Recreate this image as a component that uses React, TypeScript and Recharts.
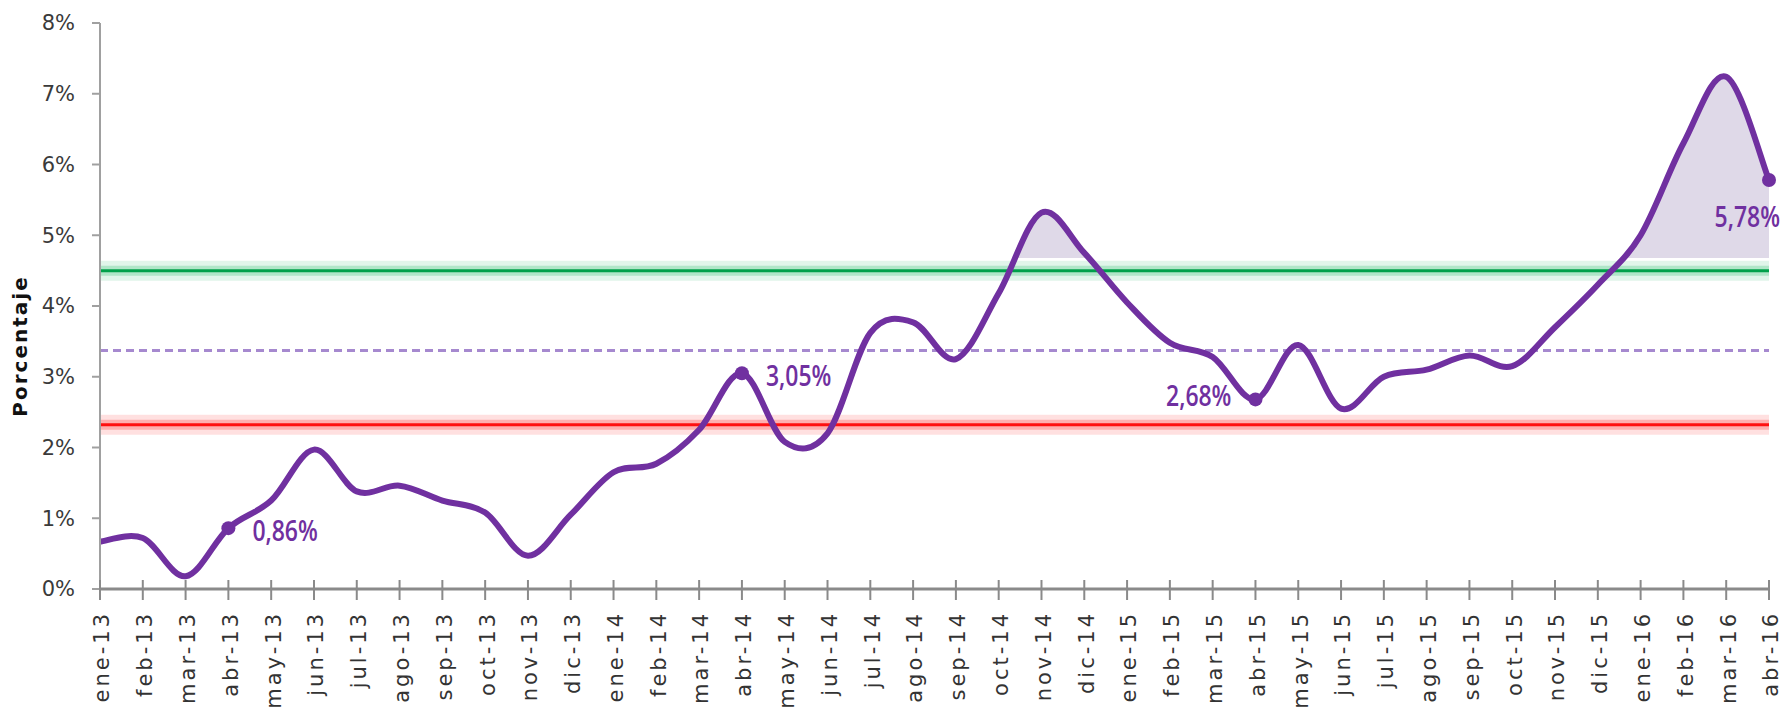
import { Area, ComposedChart, Line, XAxis, YAxis } from 'recharts';

// Meses ene-13 … abr-16 y tasa mensual (%)
const meses = [
  'ene-13', 'feb-13', 'mar-13', 'abr-13', 'may-13', 'jun-13', 'jul-13', 'ago-13', 'sep-13', 'oct-13', 'nov-13', 'dic-13',
  'ene-14', 'feb-14', 'mar-14', 'abr-14', 'may-14', 'jun-14', 'jul-14', 'ago-14', 'sep-14', 'oct-14', 'nov-14', 'dic-14',
  'ene-15', 'feb-15', 'mar-15', 'abr-15', 'may-15', 'jun-15', 'jul-15', 'ago-15', 'sep-15', 'oct-15', 'nov-15', 'dic-15',
  'ene-16', 'feb-16', 'mar-16', 'abr-16',
];

const tasa = [
  0.67, 0.72, 0.18, 0.86, 1.25, 1.97, 1.38, 1.46, 1.25, 1.08, 0.47, 1.05,
  1.65, 1.77, 2.25, 3.05, 2.08, 2.2, 3.62, 3.77, 3.25, 4.18, 5.32, 4.75,
  4.05, 3.48, 3.28, 2.68, 3.45, 2.55, 3.0, 3.1, 3.3, 3.15, 3.7, 4.3,
  5.0, 6.3, 7.24, 5.78,
];

const metaSuperior = 4.5;
const metaInferior = 2.32;
const promedio = 3.37;
const umbralSombra = 4.68;

const yTicks = [0, 1, 2, 3, 4, 5, 6, 7, 8];
const destacados = [3, 15, 27, 39];

const rows = meses.map((mes, i) => ({
  mes,
  tasa: tasa[i],
  sup: metaSuperior,
  inf: metaInferior,
  prom: promedio,
  umbral: umbralSombra,
}));

const PURPLE = '#7030A0';

// Excel-like smoothed line (uniform Catmull-Rom as cubic béziers)
function excelSmooth(context: any) {
  let xs: number[] = [];
  let ys: number[] = [];
  let line = NaN;
  return {
    areaStart() { line = 0; },
    areaEnd() { line = NaN; },
    lineStart() { xs = []; ys = []; },
    lineEnd() {
      const n = xs.length;
      if (n) {
        if (line) context.lineTo(xs[0], ys[0]);
        else context.moveTo(xs[0], ys[0]);
        for (let i = 0; i < n - 1; i++) {
          const a = Math.max(i - 1, 0);
          const d = Math.min(i + 2, n - 1);
          context.bezierCurveTo(
            xs[i] + (xs[i + 1] - xs[a]) / 6, ys[i] + (ys[i + 1] - ys[a]) / 6,
            xs[i + 1] - (xs[d] - xs[i]) / 6, ys[i + 1] - (ys[d] - ys[i]) / 6,
            xs[i + 1], ys[i + 1],
          );
        }
      }
      if (line || (line !== 0 && n === 1)) context.closePath();
      line = 1 - line;
    },
    point(x: number, y: number) { xs.push(+x); ys.push(+y); },
  };
}

const fmt = (v: number) => `${v.toFixed(2).replace('.', ',')}%`;

function MesTick({ x, y, payload }: any) {
  return (
    <g transform={`translate(${x},${y})`}>
      <line y1={-9} y2={11} stroke="#8a8a8a" strokeWidth={2} />
      <text
        transform="rotate(-90)"
        x={-22}
        y={2}
        dy="0.35em"
        textAnchor="end"
        fontFamily="DejaVu Sans, Verdana, sans-serif"
        fontSize={21}
        letterSpacing={3}
        fill="#333"
      >
        {payload.value}
      </text>
    </g>
  );
}

function PuntoDestacado(props: any) {
  const { cx, cy, index, value } = props;
  if (!destacados.includes(index)) return <g key={`d${index}`} />;
  let tx = cx + 24;
  let ty = cy + 3;
  let anchor: 'start' | 'end' = 'start';
  if (index === 27) { tx = cx - 24; ty = cy - 3; anchor = 'end'; }
  if (index === 39) { tx = cx + 11; ty = cy + 37; anchor = 'end'; }
  return (
    <g key={`d${index}`}>
      <circle cx={cx} cy={cy} r={7} fill={PURPLE} />
      <text
        transform={`translate(${tx},${ty}) scale(0.82,1)`}
        dy="0.36em"
        textAnchor={anchor}
        fontFamily="'Open Sans', sans-serif"
        fontWeight={600}
        fontSize={28}
        fill={PURPLE}
      >
        {fmt(value)}
      </text>
    </g>
  );
}

export default function App() {
  return (
    <div style={{ position: 'absolute', left: 0, top: 0, background: '#fff' }}>
      <ComposedChart width={1783} height={713} data={rows} margin={{ top: 23, right: 14, bottom: 0, left: 0 }}>
        {/* shaded zone above the threshold: fill, then white cover below it */}
        <Area
          dataKey="tasa"
          type={excelSmooth as any}
          baseValue={umbralSombra}
          fill="#dfd9e8"
          fillOpacity={1}
          stroke="none"
          isAnimationActive={false}
        />
        <Area
          dataKey="umbral"
          type="linear"
          fill="#ffffff"
          fillOpacity={1}
          stroke="none"
          isAnimationActive={false}
        />
        <Line dataKey="inf" stroke="#ff0000" strokeOpacity={0.12} strokeWidth={20} dot={false} isAnimationActive={false} />
        <Line dataKey="inf" stroke="#ff0000" strokeOpacity={0.22} strokeWidth={10} dot={false} isAnimationActive={false} />
        <Line dataKey="inf" stroke="#ff1010" strokeWidth={3} dot={false} isAnimationActive={false} />
        <Line dataKey="sup" stroke="#00b050" strokeOpacity={0.12} strokeWidth={20} dot={false} isAnimationActive={false} />
        <Line dataKey="sup" stroke="#00b050" strokeOpacity={0.22} strokeWidth={10} dot={false} isAnimationActive={false} />
        <Line dataKey="sup" stroke="#00a04a" strokeWidth={3} dot={false} isAnimationActive={false} />
        <Line
          dataKey="prom"
          stroke="#a689cf"
          strokeWidth={3}
          strokeDasharray="8 5"
          dot={false}
          isAnimationActive={false}
        />
        <Line
          dataKey="tasa"
          type={excelSmooth as any}
          stroke={PURPLE}
          strokeWidth={6}
          dot={PuntoDestacado}
          activeDot={false}
          isAnimationActive={false}
        />
        <XAxis
          dataKey="mes"
          scale="point"
          padding={{ left: 0, right: 0 }}
          interval={0}
          height={124}
          tickSize={0}
          tickMargin={0}
          tickLine={false}
          axisLine={{ stroke: '#8a8a8a', strokeWidth: 3 }}
          tick={<MesTick />}
        />
        <YAxis
          domain={[0, 8]}
          ticks={yTicks}
          width={100}
          tickSize={8}
          tickMargin={17}
          tickFormatter={(v: number) => `${v}%`}
          axisLine={{ stroke: '#a0a0a0', strokeWidth: 2 }}
          tickLine={{ stroke: '#a0a0a0', strokeWidth: 2 }}
          tick={{ fontFamily: 'DejaVu Sans, Verdana, sans-serif', fontSize: 21, fill: '#3a3a3a' }}
          label={{
            content: ({ viewBox }: any) => (
              <text
                transform={`translate(${viewBox.x + 20},${viewBox.y + viewBox.height / 2 + 40}) rotate(-90)`}
                textAnchor="middle"
                dy="0.35em"
                fontFamily="DejaVu Sans, Verdana, sans-serif"
                fontWeight="bold"
                fontSize={20}
                letterSpacing={2}
                fill="#111"
              >
                Porcentaje
              </text>
            ),
          }}
        />
      </ComposedChart>
    </div>
  );
}
